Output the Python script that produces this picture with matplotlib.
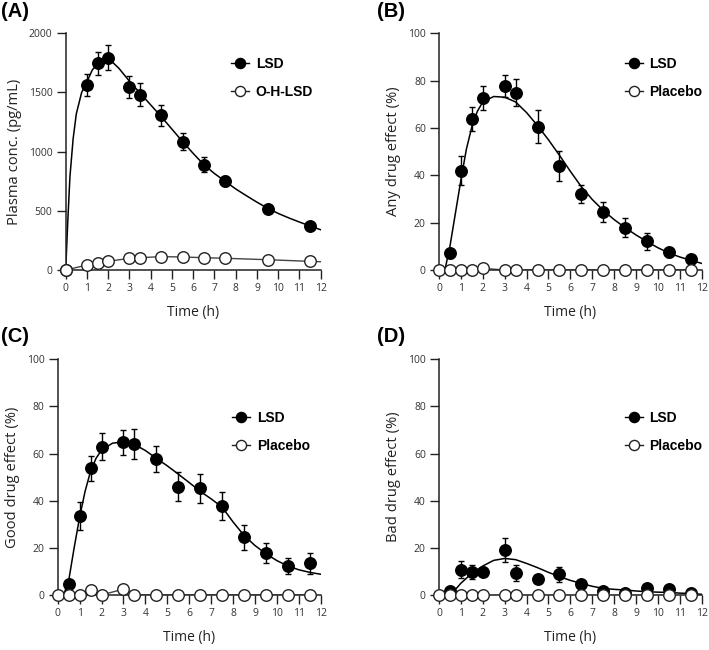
import matplotlib
matplotlib.use('Agg')
import matplotlib.pyplot as plt
from matplotlib.lines import Line2D

# (A) plasma concentration
t_A = [0, 1, 1.5, 2, 3, 3.5, 4.5, 5.5, 6.5, 7.5, 9.5, 11.5]
lsd_A = [0, 1565, 1745, 1795, 1545, 1480, 1307, 1083, 890, 752, 518, 375]
lsd_A_err = [0, 95, 97, 105, 95, 97, 87, 72, 62, 45, 25, 20]
oh_A = [0, 42, 62, 73, 99, 104, 113, 110, 104, 99, 87, 73]
fit_A_t = [0, 0.1, 0.2, 0.35, 0.5, 0.75, 1, 1.25, 1.5, 1.75, 2, 2.5, 3, 3.5, 4, 4.5, 5,
           5.5, 6, 6.5, 7, 7.5, 8, 8.5, 9, 9.5, 10, 10.5, 11, 11.5, 12]
fit_A = [0, 420, 790, 1110, 1320, 1500, 1590, 1690, 1745, 1780, 1790, 1705, 1595, 1495,
         1395, 1295, 1190, 1085, 985, 890, 815, 750, 685, 628, 573, 522, 478, 440, 405, 372, 340]
oh_fit_t = [0, 1, 1.5, 2, 3, 3.5, 4.5, 5.5, 6.5, 7.5, 9.5, 11.5, 12]
oh_fit = [0, 42, 62, 73, 99, 104, 113, 110, 104, 99, 87, 73, 70]

# (B)-(D) subjective effects, LSD
t_lsd = [0.5, 1, 1.5, 2, 3, 3.5, 4.5, 5.5, 6.5, 7.5, 8.5, 9.5, 10.5, 11.5]
any_lsd = [7, 42, 63.7, 72.8, 77.7, 74.9, 60.6, 43.8, 32.2, 24.5, 17.9, 12.1, 7.5, 4.6]
any_err = [2, 6, 5, 5, 4.8, 5.8, 6.8, 6.3, 3.8, 4.2, 4, 3.7, 2, 1.2]
good_lsd = [4.8, 33.5, 53.7, 62.9, 64.8, 64.1, 57.6, 46, 45.2, 37.8, 24.5, 17.7, 12.4, 13.4]
good_err = [1.5, 5.8, 5.3, 5.7, 5.3, 6.2, 5.6, 6.2, 6, 6, 5.2, 4.3, 3.5, 4.3]
bad_lsd = [1.7, 10.8, 9.9, 9.9, 19, 9.4, 7, 8.7, 4.5, 1.7, 1.0, 2.8, 2.4, 1.0]
bad_err = [1, 3.7, 3, 2, 5, 3.5, 1.5, 3.2, 1.5, 1.2, 1, 1.2, 1.2, 1]

# placebo
t_pl = [0, 0.5, 1, 1.5, 2, 3, 3.5, 4.5, 5.5, 6.5, 7.5, 8.5, 9.5, 10.5, 11.5]
any_pl = [0, 0, 0, 0, 0.7, 0, 0, 0, 0, 0, 0, 0, 0, 0, 0]
good_pl = [0, 0, 0, 2.3, 0, 2.5, 0, 0, 0, 0, 0, 0, 0, 0, 0]
bad_pl = [0, 0, 0, 0, 0, 0, 0, 0, 0, 0, 0, 0, 0, 0, 0]

# fitted curves
fit_t = [0, 0.27, 0.5, 0.75, 1, 1.25, 1.5, 1.75, 2, 2.5, 3, 3.5, 4, 4.5, 5, 5.5, 6,
         6.5, 7, 7.5, 8, 8.5, 9, 9.5, 10, 10.5, 11, 11.5, 12]
any_fit = [0, 0, 10, 24, 38, 51, 60.5, 67, 71, 73.3, 73, 71, 66.5, 61, 55, 48.5, 41.7,
           35.2, 29.8, 25.2, 21.3, 17.9, 14.8, 12, 9.4, 7.2, 5.5, 4.1, 2.8]
good_fit = [0, 0, 6, 20, 33, 44, 52.5, 58, 61.5, 64.4, 65, 63.9, 61.3, 58, 54.8, 51.3, 47.7,
            44, 40.8, 37.3, 31, 25.3, 21, 17.5, 14.6, 12.3, 10.7, 9.6, 8.8]
bad_fit_t = [0.53, 1, 1.5, 2, 2.5, 3, 3.5, 4, 4.5, 5, 5.5, 6, 6.5, 7, 7.5, 8, 8.5, 9,
             9.5, 10, 10.5, 11, 11.5, 12]
bad_fit = [0, 5, 9.2, 12.3, 14.7, 15.5, 15, 13.4, 11.6, 9.6, 7.8, 6.2, 4.9, 3.7, 2.8,
           2.4, 2.1, 1.7, 1.4, 1.2, 1.1, 0.8, 0.6, 0.3]

W, H = 709, 650
fig = plt.figure(figsize=(W / 100, H / 100), dpi=100)

def px_axes(x0, x1, ytop, ybot):
    return fig.add_axes([x0 / W, 1 - ybot / H, (x1 - x0) / W, (ybot - ytop) / H])

axA = px_axes(65.7, 320.7, 33.3, 270)
axB = px_axes(439, 701.7, 33.3, 270)
axC = px_axes(57.7, 320.7, 359.3, 595)
axD = px_axes(439, 701.7, 359.3, 595)

ms = 8.3
edge = '#222222'


def style(ax, ymax, ystep, ylabel):
    ax.set_xlim(0, 12)
    ax.set_ylim(0, ymax)
    ax.set_xticks(range(13))
    ax.set_yticks(range(0, ymax + 1, ystep))
    for s in ['top', 'right']:
        ax.spines[s].set_visible(False)
    for s in ['left', 'bottom']:
        ax.spines[s].set_linewidth(1.1)
        ax.spines[s].set_color(edge)
    ax.tick_params(length=6.5, width=1.0, color=edge, pad=3, labelcolor='#333333')
    for lab in ax.get_xticklabels() + ax.get_yticklabels():
        lab.set_fontfamily('Open Sans')
        lab.set_fontsize(7.5)
    ax.set_xlabel('Time (h)', labelpad=8, family='Open Sans', size=10, color='#222222')
    ax.set_ylabel(ylabel, labelpad=5, family='Open Sans', size=10.6, color='#222222')


def legend(ax, x, y, other):
    h1 = Line2D([], [], color='k', marker='o', ms=ms - 1, mfc='k', mec='k', lw=1)
    h2 = Line2D([], [], color=edge, marker='o', ms=ms - 1, mfc='white', mec=edge, lw=1)
    ax.legend([h1, h2], ['LSD', other], loc='upper left', bbox_to_anchor=(x, y),
              frameon=False, borderpad=0, handlelength=1.35, handletextpad=0.45,
              labelspacing=1.0, prop=dict(family='Liberation Sans', weight='bold', size=10))


def panel(ax, t, y, err, fit_x, fit_y, tp, yp, fx=None, fy=None):
    ax.plot(fit_x, fit_y, color='k', lw=1.1, zorder=2)
    if fx is not None:
        ax.plot(fx, fy, color='#444444', lw=1.0, zorder=2)
    else:
        ax.plot(tp, yp, color='#444444', lw=1.0, zorder=2)
    ax.errorbar(t, y, yerr=err, fmt='o', color='k', ms=ms, mfc='k', mec='k',
                elinewidth=1, capsize=2, capthick=1, zorder=3, clip_on=False)
    ax.plot(tp, yp, 'o', ms=ms, mfc='white', mec=edge, mew=1, zorder=4, clip_on=False)


panel(axA, t_A, lsd_A, lsd_A_err, fit_A_t, fit_A, t_A, oh_A, oh_fit_t, oh_fit)
style(axA, 2000, 500, 'Plasma conc. (pg/mL)')
legend(axA, 0.62, 0.93, 'O-H-LSD')

panel(axB, t_lsd, any_lsd, any_err, fit_t, any_fit, t_pl, any_pl)
style(axB, 100, 20, 'Any drug effect (%)')
legend(axB, 0.68, 0.93, 'Placebo')

panel(axC, t_lsd, good_lsd, good_err, fit_t, good_fit, t_pl, good_pl)
style(axC, 100, 20, 'Good drug effect (%)')
legend(axC, 0.635, 0.81, 'Placebo')

panel(axD, t_lsd, bad_lsd, bad_err, bad_fit_t, bad_fit, t_pl, bad_pl)
style(axD, 100, 20, 'Bad drug effect (%)')
legend(axD, 0.68, 0.81, 'Placebo')

for lab, x, y in [('(A)', 1, 2), ('(B)', 377, 2), ('(C)', 1, 327), ('(D)', 377, 327)]:
    fig.text(x / W, 1 - y / H, lab, ha='left', va='top', family='Liberation Sans',
             weight='bold', size=14.5)

fig.savefig('out.png', dpi=100)
